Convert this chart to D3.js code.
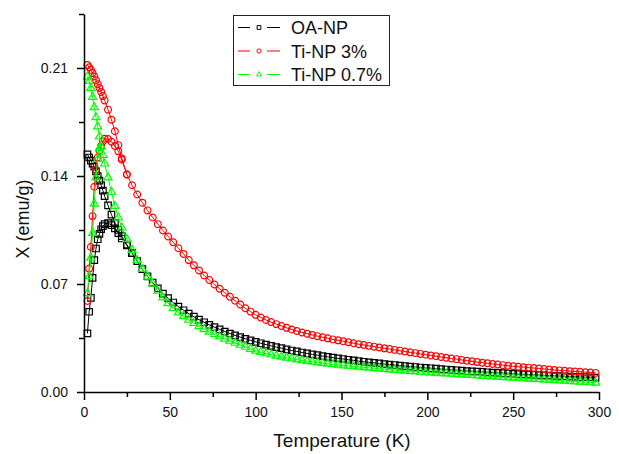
<!DOCTYPE html>
<html>
<head>
<meta charset="utf-8">
<script src="https://cdn.jsdelivr.net/npm/d3@7"></script>
<style>
  body { margin: 0; background: #fff; }
  text { font-family: "Liberation Sans", Arial, sans-serif; fill: #111; }
</style>
</head>
<body>
<div id="chart"></div>
<script>
// temperature grid (K)
const temps = [2, 3, 4, 5, 6, 7, 8, 9, 10, 11, 12, 14, 16, 18, 20, 22, 25,
  28, 31, 34, 37, 40, 43, 46, 49, 52, 55, 58, 61, 64, 67, 70, 73, 76, 79, 82, 85, 88, 91, 94, 97,
  100, 103, 106, 109, 112, 115, 118, 121, 124, 127, 130, 133, 136, 139, 142, 145, 148, 151, 154, 157,
  160, 163, 166, 169, 172, 175, 178, 181, 184, 187, 190, 193, 196, 199, 202, 205, 208, 211, 214, 217,
  220, 223, 226, 229, 232, 235, 238, 241, 244, 247, 250, 253, 256, 259, 262, 265, 268, 271, 274, 277,
  280, 283, 286, 289, 292, 295, 298];

// FC branches (emu/g)
const fcOA = [0.154, 0.152, 0.150, 0.148, 0.146, 0.143, 0.140, 0.137, 0.134, 0.1305, 0.127, 0.121, 0.115, 0.1095, 0.105, 0.101, 0.0955,
  0.0900, 0.0848, 0.0796, 0.0750, 0.0709, 0.0672, 0.0638, 0.0608, 0.0580, 0.0554, 0.0530, 0.0508, 0.0488, 0.0469, 0.0452, 0.0435, 0.0420, 0.0406, 0.0392, 0.0379, 0.0367, 0.0356, 0.0345, 0.0335,
  0.0325, 0.0316, 0.0307, 0.0299, 0.0291, 0.0284, 0.0276, 0.0269, 0.0263, 0.0256, 0.0250, 0.0244, 0.0239, 0.0233, 0.0228, 0.0223, 0.0218, 0.0214, 0.0209, 0.0205,
  0.0200, 0.0196, 0.0192, 0.0189, 0.0185, 0.0181, 0.0178, 0.0175, 0.0171, 0.0168, 0.0165, 0.0162, 0.0159, 0.0156, 0.0154, 0.0151, 0.0148, 0.0146, 0.0143, 0.0141,
  0.0139, 0.0136, 0.0134, 0.0132, 0.0130, 0.0128, 0.0126, 0.0124, 0.0122, 0.0120, 0.0118, 0.0116, 0.0114, 0.0113, 0.0111, 0.0109, 0.0108, 0.0106, 0.0105, 0.0103,
  0.0102, 0.0100, 0.0099, 0.0097, 0.0096, 0.0095, 0.0093];

const fcTi3 = [0.212, 0.2105, 0.2088, 0.2068, 0.2045, 0.2020, 0.1995, 0.1970, 0.1945, 0.1918, 0.1890, 0.1830, 0.1765, 0.1690, 0.1600, 0.1515, 0.1410,
  0.1340, 0.1280, 0.1227, 0.1177, 0.1131, 0.1088, 0.1047, 0.1008, 0.0970, 0.0932, 0.0895, 0.0855, 0.0821, 0.0788, 0.0755, 0.0726, 0.0697, 0.0669, 0.0643, 0.0617, 0.0592, 0.0567, 0.0543, 0.0521,
  0.0500, 0.0483, 0.0467, 0.0453, 0.0440, 0.0428, 0.0416, 0.0405, 0.0395, 0.0386, 0.0378, 0.0370, 0.0362, 0.0355, 0.0348, 0.0341, 0.0335, 0.0329, 0.0323, 0.0316,
  0.0310, 0.0305, 0.0299, 0.0294, 0.0288, 0.0283, 0.0278, 0.0273, 0.0268, 0.0262, 0.0257, 0.0252, 0.0247, 0.0242, 0.0237, 0.0232, 0.0227, 0.0222, 0.0217, 0.0213,
  0.0208, 0.0203, 0.0199, 0.0194, 0.0190, 0.0186, 0.0182, 0.0178, 0.0174, 0.0170, 0.0167, 0.0164, 0.0161, 0.0158, 0.0155, 0.0152, 0.0149, 0.0146, 0.0143, 0.0140,
  0.0138, 0.0135, 0.0133, 0.0131, 0.0128, 0.0126, 0.0124];

const fcTi07 = [0.2045, 0.2015, 0.1970, 0.1912, 0.1845, 0.1780, 0.1720, 0.1655, 0.1590, 0.1535, 0.1480, 0.1390, 0.1295, 0.1205, 0.1130, 0.1065, 0.0990,
  0.0920, 0.0855, 0.0797, 0.0747, 0.0702, 0.0655, 0.0612, 0.0575, 0.0543, 0.0515, 0.0490, 0.0467, 0.0446, 0.0426, 0.0407, 0.0390, 0.0374, 0.0359, 0.0345, 0.0331, 0.0318, 0.0305, 0.0292, 0.0279,
  0.0267, 0.0258, 0.0250, 0.0242, 0.0235, 0.0228, 0.0222, 0.0216, 0.0210, 0.0205, 0.0200, 0.0195, 0.0191, 0.0187, 0.0183, 0.0179, 0.0176, 0.0172, 0.0169, 0.0166,
  0.0163, 0.0160, 0.0157, 0.0154, 0.0151, 0.0148, 0.0145, 0.0142, 0.0140, 0.0137, 0.0135, 0.0132, 0.0130, 0.0128, 0.0126, 0.0123, 0.0121, 0.0119, 0.0117, 0.0115,
  0.0113, 0.0111, 0.0109, 0.0107, 0.0104, 0.0102, 0.0100, 0.0098, 0.0096, 0.0094, 0.0092, 0.0090, 0.0088, 0.0086, 0.0084, 0.0082, 0.0080, 0.0078, 0.0076, 0.0074,
  0.0072, 0.0070, 0.0068, 0.0066, 0.0064, 0.0062, 0.0060];

// ZFC branches, only the low-T part before they join the FC curve
const zfcOA = [0.038, 0.052, 0.061, 0.074, 0.0855, 0.093, 0.099, 0.1025, 0.1055, 0.1075, 0.1088, 0.1095, 0.1082, 0.1060, 0.1030, 0.0995, 0.0950, 0.0900];
const zfcTi3 = [0.059, 0.080, 0.094, 0.114, 0.133, 0.144, 0.152, 0.1565, 0.1595, 0.1625, 0.1642, 0.1640, 0.1622, 0.1595, 0.1560, 0.1505, 0.1410];
const zfcTi07 = [0.064, 0.075, 0.087, 0.103, 0.122, 0.139, 0.151, 0.158, 0.159];

const seriesNames = ["OA-NP", "Ti-NP 3%", "Ti-NP 0.7%"];
const xMajor = [0, 50, 100, 150, 200, 250, 300];
const xMinor = [25, 75, 125, 175, 225, 275];
const yMajor = [0, 0.07, 0.14, 0.21];
const yMinor = [0.035, 0.105, 0.175, 0.245];

const series = [
  { name: seriesNames[0], color: "#000000", symbol: d3.symbolSquare, size: 42, legSize: 14, fc: fcOA, zfc: zfcOA },
  { name: seriesNames[1], color: "#ff0000", symbol: d3.symbolCircle, size: 36, legSize: 14, fc: fcTi3, zfc: zfcTi3 },
  { name: seriesNames[2], color: "#00ff00", symbol: d3.symbolTriangle, size: 28, legSize: 11, fc: fcTi07, zfc: zfcTi07 }
];

const svg = d3.select("#chart").append("svg")
  .attr("width", 619)
  .attr("height", 454);

const x = d3.scaleLinear().domain([0, 300]).range([84, 599]);
const y = d3.scaleLinear().domain([0, 0.245]).range([392, 14]);

const line = d3.line().x(d => x(d[0])).y(d => y(d[1]));

// curves
series.forEach(s => {
  const branches = [
    s.zfc.map((v, i) => [temps[i], v]),
    s.fc.map((v, i) => [temps[i], v])
  ];
  branches.forEach(pts => {
    const g = svg.append("g");
    g.append("path")
      .attr("d", line(pts))
      .attr("fill", "none")
      .attr("stroke", s.color)
      .attr("stroke-width", 1);
    g.selectAll("path.m")
      .data(pts)
      .enter().append("path")
      .attr("class", "m")
      .attr("d", d3.symbol().type(s.symbol).size(s.size))
      .attr("transform", d => `translate(${x(d[0])},${y(d[1])})`)
      .attr("fill", "none")
      .attr("stroke", s.color)
      .attr("stroke-width", 1.2);
  });
});

// axes
svg.append("g")
  .attr("transform", "translate(0,392)")
  .call(d3.axisBottom(x).tickValues(xMajor).tickSize(8).tickSizeOuter(0).tickPadding(7).tickFormat(d3.format("d")));
svg.append("g")
  .attr("transform", "translate(0,392)")
  .call(d3.axisBottom(x).tickValues(xMinor).tickSize(5).tickSizeOuter(0).tickFormat(""))
  .select(".domain").remove();

svg.append("g")
  .attr("transform", "translate(84,0)")
  .call(d3.axisLeft(y).tickValues(yMajor).tickSize(7).tickSizeOuter(0).tickPadding(9).tickFormat(d3.format(".2f")));
svg.append("g")
  .attr("transform", "translate(84,0)")
  .call(d3.axisLeft(y).tickValues(yMinor).tickSize(5).tickSizeOuter(0).tickFormat(""))
  .select(".domain").remove();

svg.selectAll(".domain, .tick line").attr("stroke", "#000").attr("stroke-width", 1.5);
svg.selectAll(".tick text")
  .style("font-family", '"Liberation Sans", Arial, sans-serif')
  .style("font-size", "14px")
  .attr("fill", "#111");

svg.append("text")
  .attr("x", 342)
  .attr("y", 447)
  .attr("text-anchor", "middle")
  .style("font-size", "19px")
  .text("Temperature (K)");

svg.append("text")
  .attr("transform", "translate(29,219) rotate(-90)")
  .attr("text-anchor", "middle")
  .style("font-size", "18px")
  .text("X (emu/g)");

// legend
const legend = svg.append("g");
legend.append("rect")
  .attr("x", 233.5).attr("y", 15.5)
  .attr("width", 156).attr("height", 70)
  .attr("fill", "#fff")
  .attr("stroke", "#222")
  .attr("stroke-width", 1);

series.forEach((s, i) => {
  const cy = 27.5 + i * 23.5;
  legend.append("line").attr("x1", 238).attr("x2", 250).attr("y1", cy).attr("y2", cy)
    .attr("stroke", s.color).attr("stroke-width", 1);
  legend.append("line").attr("x1", 267).attr("x2", 280).attr("y1", cy).attr("y2", cy)
    .attr("stroke", s.color).attr("stroke-width", 1);
  legend.append("path")
    .attr("d", d3.symbol().type(s.symbol).size(s.legSize))
    .attr("transform", `translate(259,${cy})`)
    .attr("fill", "none")
    .attr("stroke", s.color)
    .attr("stroke-width", 1);
  legend.append("text")
    .attr("x", 291)
    .attr("y", cy + 6.5)
    .style("font-size", "18px")
    .text(s.name);
});
</script>
</body>
</html>
